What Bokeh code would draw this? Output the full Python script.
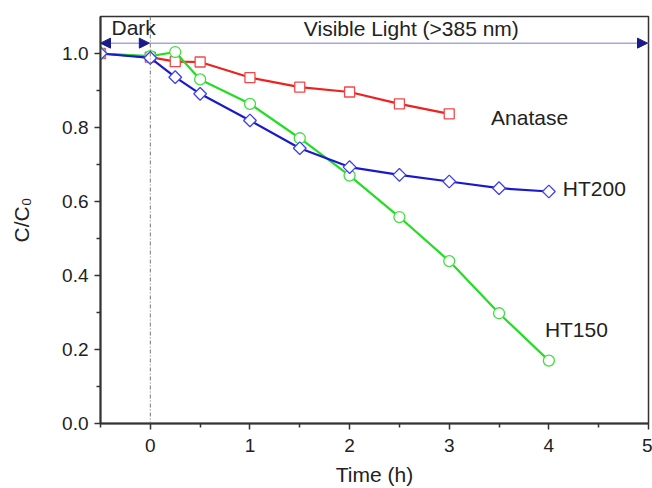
from bokeh.plotting import figure
from bokeh.models import (Range1d, FixedTicker, Label, Arrow, NormalHead, Span)
from bokeh.embed import file_html
from bokeh.resources import INLINE
import math

FONT = "Liberation Sans"

# Photocatalytic degradation, C/C0 versus time (h)
anatase_t = [-0.5, 0, 0.25, 0.5, 1, 1.5, 2, 2.5, 3]
anatase_c = [1.0, 0.99, 0.978, 0.977, 0.935, 0.909, 0.896, 0.864, 0.837]

ht200_t = [-0.5, 0, 0.25, 0.5, 1, 1.5, 2, 2.5, 3, 3.5, 4]
ht200_c = [1.0, 0.988, 0.936, 0.891, 0.819, 0.744, 0.693, 0.672, 0.654, 0.636, 0.627]

ht150_t = [-0.5, 0, 0.25, 0.5, 1, 1.5, 2, 2.5, 3, 3.5, 4]
ht150_c = [1.0, 0.993, 1.004, 0.93, 0.864, 0.771, 0.670, 0.558, 0.439, 0.298, 0.170]

x_ticks = [0, 1, 2, 3, 4, 5]
x_minor = [-0.5, 0.5, 1.5, 2.5, 3.5, 4.5]
y_ticks = [0.0, 0.2, 0.4, 0.6, 0.8, 1.0]
y_minor = [0.1, 0.3, 0.5, 0.7, 0.9]

p = figure(width=652, height=488, output_backend="svg", toolbar_location=None,
           x_range=Range1d(-0.5, 5), y_range=Range1d(0, 1.1),
           min_border_left=100, min_border_right=4, min_border_top=16,
           min_border_bottom=65)
p.xgrid.visible = False
p.ygrid.visible = False
p.outline_line_color = "#333333"
p.outline_line_width = 1.5
p.background_fill_color = "white"
p.border_fill_color = "white"

# axes
p.xaxis.ticker = FixedTicker(ticks=x_ticks, minor_ticks=x_minor)
p.yaxis.ticker = FixedTicker(ticks=y_ticks, minor_ticks=y_minor)
p.yaxis.major_label_overrides = {v: f"{v:.1f}" for v in y_ticks}
for ax in (p.xaxis[0], p.yaxis[0]):
    ax.axis_line_color = "#333333"
    ax.axis_line_width = 2
    ax.major_tick_line_color = "#333333"
    ax.minor_tick_line_color = "#333333"
    ax.major_tick_line_width = 1.5
    ax.minor_tick_line_width = 1.5
    ax.major_tick_in = 0
    ax.major_tick_out = 6
    ax.minor_tick_in = 0
    ax.minor_tick_out = 4
    ax.major_label_text_font = FONT
    ax.major_label_text_font_size = "19px"
    ax.major_label_text_color = "#222222"
    ax.axis_label_text_font = FONT
    ax.axis_label_text_font_size = "21px"
    ax.axis_label_text_font_style = "normal"
    ax.axis_label_text_color = "#222222"
p.xaxis.axis_label = "Time (h)"
p.yaxis.axis_label = "C/C\u2080"
p.xaxis.major_label_standoff = 9
p.yaxis.major_label_standoff = 6
p.xaxis.axis_label_standoff = 8
p.yaxis.axis_label_standoff = 26

# dark / light boundary
p.add_layout(Span(location=0, dimension="height", line_color="#777777",
                  line_width=1, line_dash="4 2 1 2"))

# series
p.line(anatase_t, anatase_c, line_color="#f02020", line_width=2.2)
p.scatter(anatase_t, anatase_c, marker="square", size=10, line_color="#f04848",
          fill_color="white", line_width=1.3)

p.line(ht150_t, ht150_c, line_color="#22dd22", line_width=2.2)
p.scatter(ht150_t, ht150_c, marker="circle", size=11, line_color="#44dd44",
          fill_color="white", line_width=1.3)

p.line(ht200_t, ht200_c, line_color="#1a1acc", line_width=2.2)
p.scatter(ht200_t, ht200_c, marker="square", angle=math.pi / 4, size=9,
          line_color="#4040ee", fill_color="white", line_width=1.3)

# illumination period arrows
arrow_y = 1.028
p.line([-0.5, 5], [arrow_y, arrow_y], line_color="#a8a8d8", line_width=1.5)
head_kw = dict(size=10, fill_color="#1a1a88", line_color="#1a1a88")
p.add_layout(Arrow(end=NormalHead(**head_kw), x_start=-0.3, y_start=arrow_y,
                   x_end=-0.5, y_end=arrow_y, line_alpha=0))
p.add_layout(Arrow(end=NormalHead(**head_kw), x_start=-0.2, y_start=arrow_y,
                   x_end=-0.01, y_end=arrow_y, line_alpha=0))
p.add_layout(Arrow(end=NormalHead(**head_kw), x_start=4.7, y_start=arrow_y,
                   x_end=4.99, y_end=arrow_y, line_alpha=0))

label_kw = dict(text_font=FONT, text_font_size="21px", text_color="#222222")
p.add_layout(Label(x=-0.39, y=1.04, text="Dark", **label_kw))
p.add_layout(Label(x=2.62, y=1.037, text="Visible Light (>385 nm)",
                   text_align="center", **label_kw))
p.add_layout(Label(x=3.42, y=0.828, text="Anatase", text_baseline="middle", **label_kw))
p.add_layout(Label(x=4.14, y=0.635, text="HT200", text_baseline="middle", **label_kw))
p.add_layout(Label(x=3.96, y=0.254, text="HT150", text_baseline="middle", **label_kw))

open("out.html", "w").write(file_html(p, INLINE))
